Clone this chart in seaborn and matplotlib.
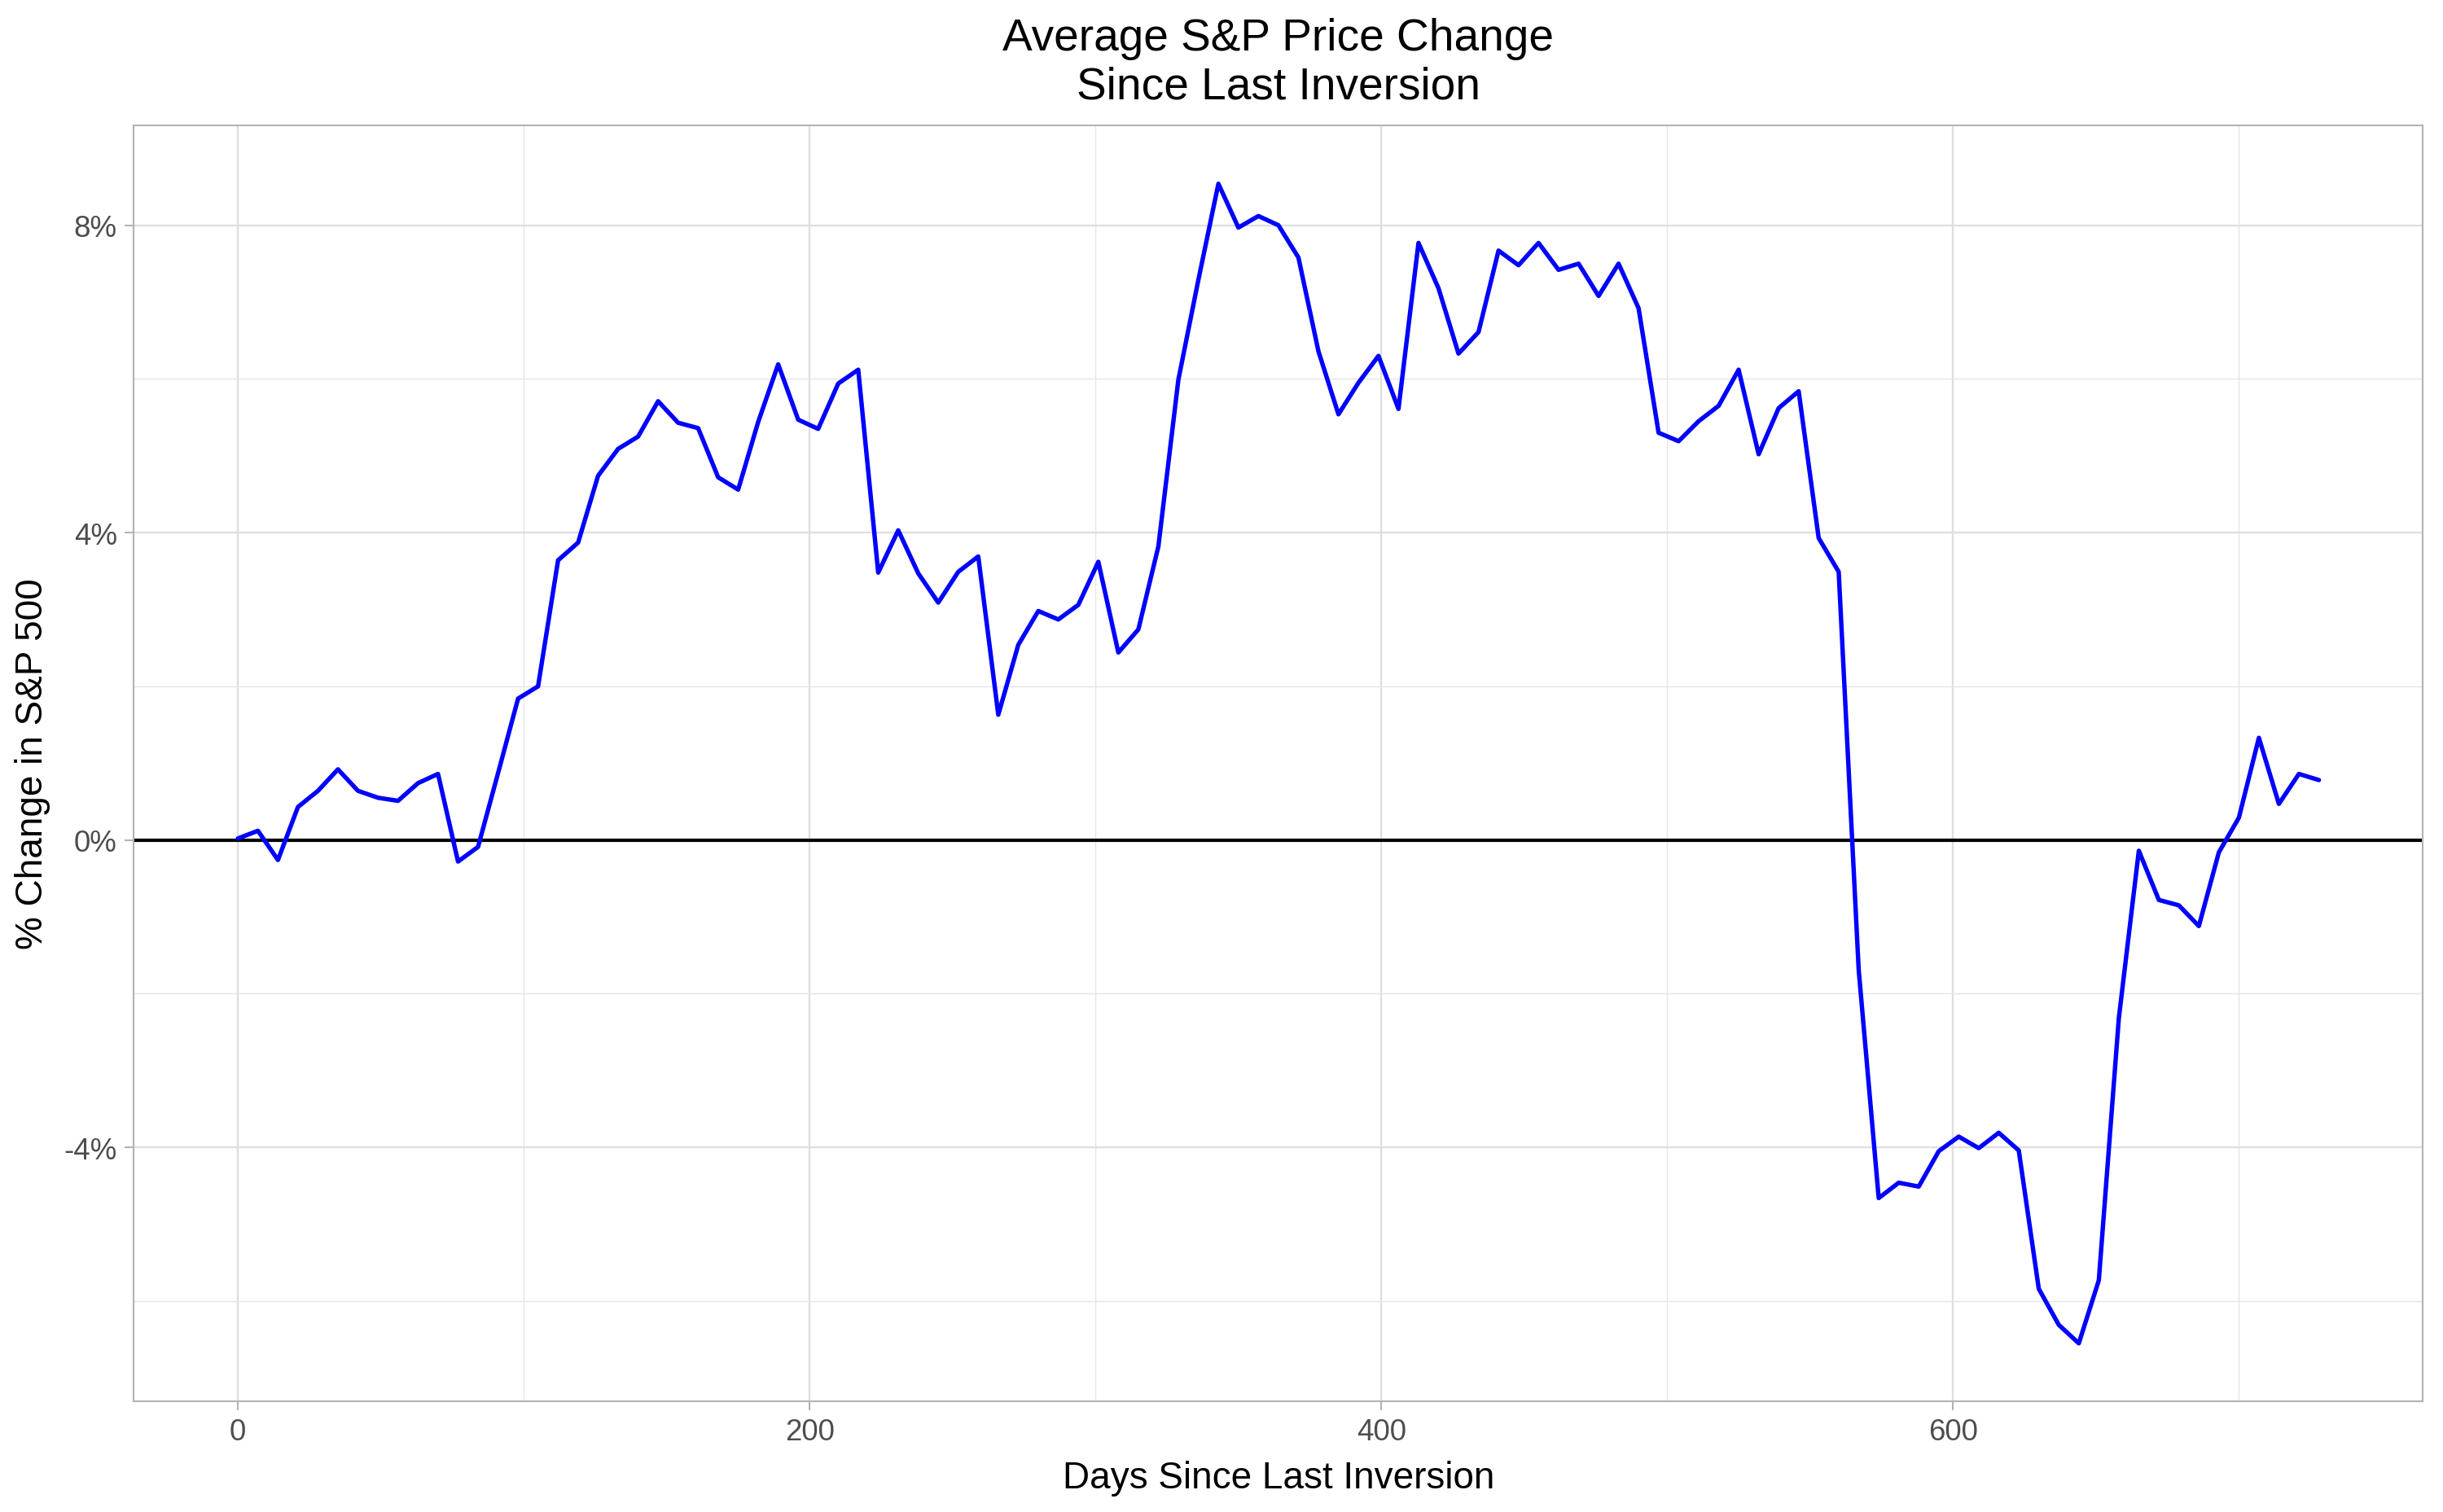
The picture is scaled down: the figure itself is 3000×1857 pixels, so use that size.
import pandas as pd
import matplotlib.pyplot as plt
import matplotlib.ticker as mticker
import seaborn as sns

days = [0, 7, 14, 21, 28, 35, 42, 49, 56, 63, 70, 77, 84, 91, 98, 105, 112, 119, 126, 133,
        140, 147, 154, 161, 168, 175, 182, 189, 196, 203, 210, 217, 224, 231, 238, 245, 252,
        259, 266, 273, 280, 287, 294, 301, 308, 315, 322, 329, 336, 343, 350, 357, 364, 371,
        378, 385, 392, 399, 406, 413, 420, 427, 434, 441, 448, 455, 462, 469, 476, 483, 490,
        497, 504, 511, 518, 525, 532, 539, 546, 553, 560, 567, 574, 581, 588, 595, 602, 609,
        616, 623, 630, 637, 644, 651, 658, 665, 672, 679, 686, 693, 700, 707, 714, 721, 728]

pct_change = [0.02, 0.12, -0.26, 0.43, 0.64, 0.92, 0.64, 0.55, 0.51, 0.74,
              0.86, -0.28, -0.09, 0.87, 1.84, 2.00, 3.64, 3.87, 4.74, 5.09,
              5.25, 5.71, 5.43, 5.36, 4.72, 4.56, 5.44, 6.19, 5.47, 5.35,
              5.94, 6.12, 3.48, 4.03, 3.47, 3.09, 3.49, 3.69, 1.63, 2.54,
              2.98, 2.87, 3.06, 3.62, 2.44, 2.74, 3.82, 5.99, 7.29, 8.54,
              7.97, 8.12, 8.00, 7.58, 6.36, 5.54, 5.95, 6.30, 5.61, 7.77,
              7.18, 6.33, 6.61, 7.67, 7.48, 7.77, 7.42, 7.50, 7.08, 7.50,
              6.92, 5.30, 5.19, 5.45, 5.65, 6.12, 5.02, 5.62, 5.84, 3.93,
              3.49, -1.69, -4.66, -4.46, -4.51, -4.05, -3.86, -4.01, -3.81, -4.04,
              -5.84, -6.31, -6.55, -5.73, -2.32, -0.14, -0.78, -0.85, -1.12, -0.16,
              0.29, 1.33, 0.47, 0.86, 0.78]

x_major = [0, 200, 400, 600]
x_minor = [100, 300, 500, 700]
y_major = [-4, 0, 4, 8]
y_minor = [-6, -2, 2, 6]

df = pd.DataFrame({"days": days, "pct": pct_change})

sns.set_style("white")
plt.rcParams['font.family'] = ['Liberation Sans', 'DejaVu Sans']

fig = plt.figure(figsize=(10, 6.1933), dpi=300)
ax = fig.add_axes([0.0548, 0.0734, 0.937, 0.8432])

ax.axhline(0, color="black", linewidth=1.0, zorder=2)
sns.lineplot(data=df, x="days", y="pct", color="blue", linewidth=1.3, ax=ax, zorder=3)

ax.set_xlim(-36.4, 764.4)
ax.set_ylim(-7.30, 9.30)

ax.set_xticks(x_major)
ax.set_xticks(x_minor, minor=True)
ax.set_yticks(y_major)
ax.set_yticks(y_minor, minor=True)
ax.yaxis.set_major_formatter(mticker.FuncFormatter(lambda v, p: f"{v:.0f}%"))

ax.grid(which="major", color="#DEDEDE", linewidth=0.55, zorder=0)
ax.grid(which="minor", color="#E6E6E6", linewidth=0.35, zorder=0)
ax.set_axisbelow(True)

for s in ax.spines.values():
    s.set_color("#B3B3B3")
    s.set_linewidth(0.5)

ax.tick_params(which="major", length=2.75, width=0.5, color="#B3B3B3",
               labelcolor="#4D4D4D", labelsize=8.8, pad=2.2,
               bottom=True, left=True)
ax.tick_params(which="minor", length=0)

ax.set_xlabel("Days Since Last Inversion", fontsize=11, color="black", labelpad=4)
ax.set_ylabel("% Change in S&P 500", fontsize=11, color="black", labelpad=4)
ax.set_title("Average S&P Price Change\nSince Last Inversion", fontsize=13.2,
             pad=8, linespacing=1.2, color="black")

fig.savefig("out.png", dpi=300)
